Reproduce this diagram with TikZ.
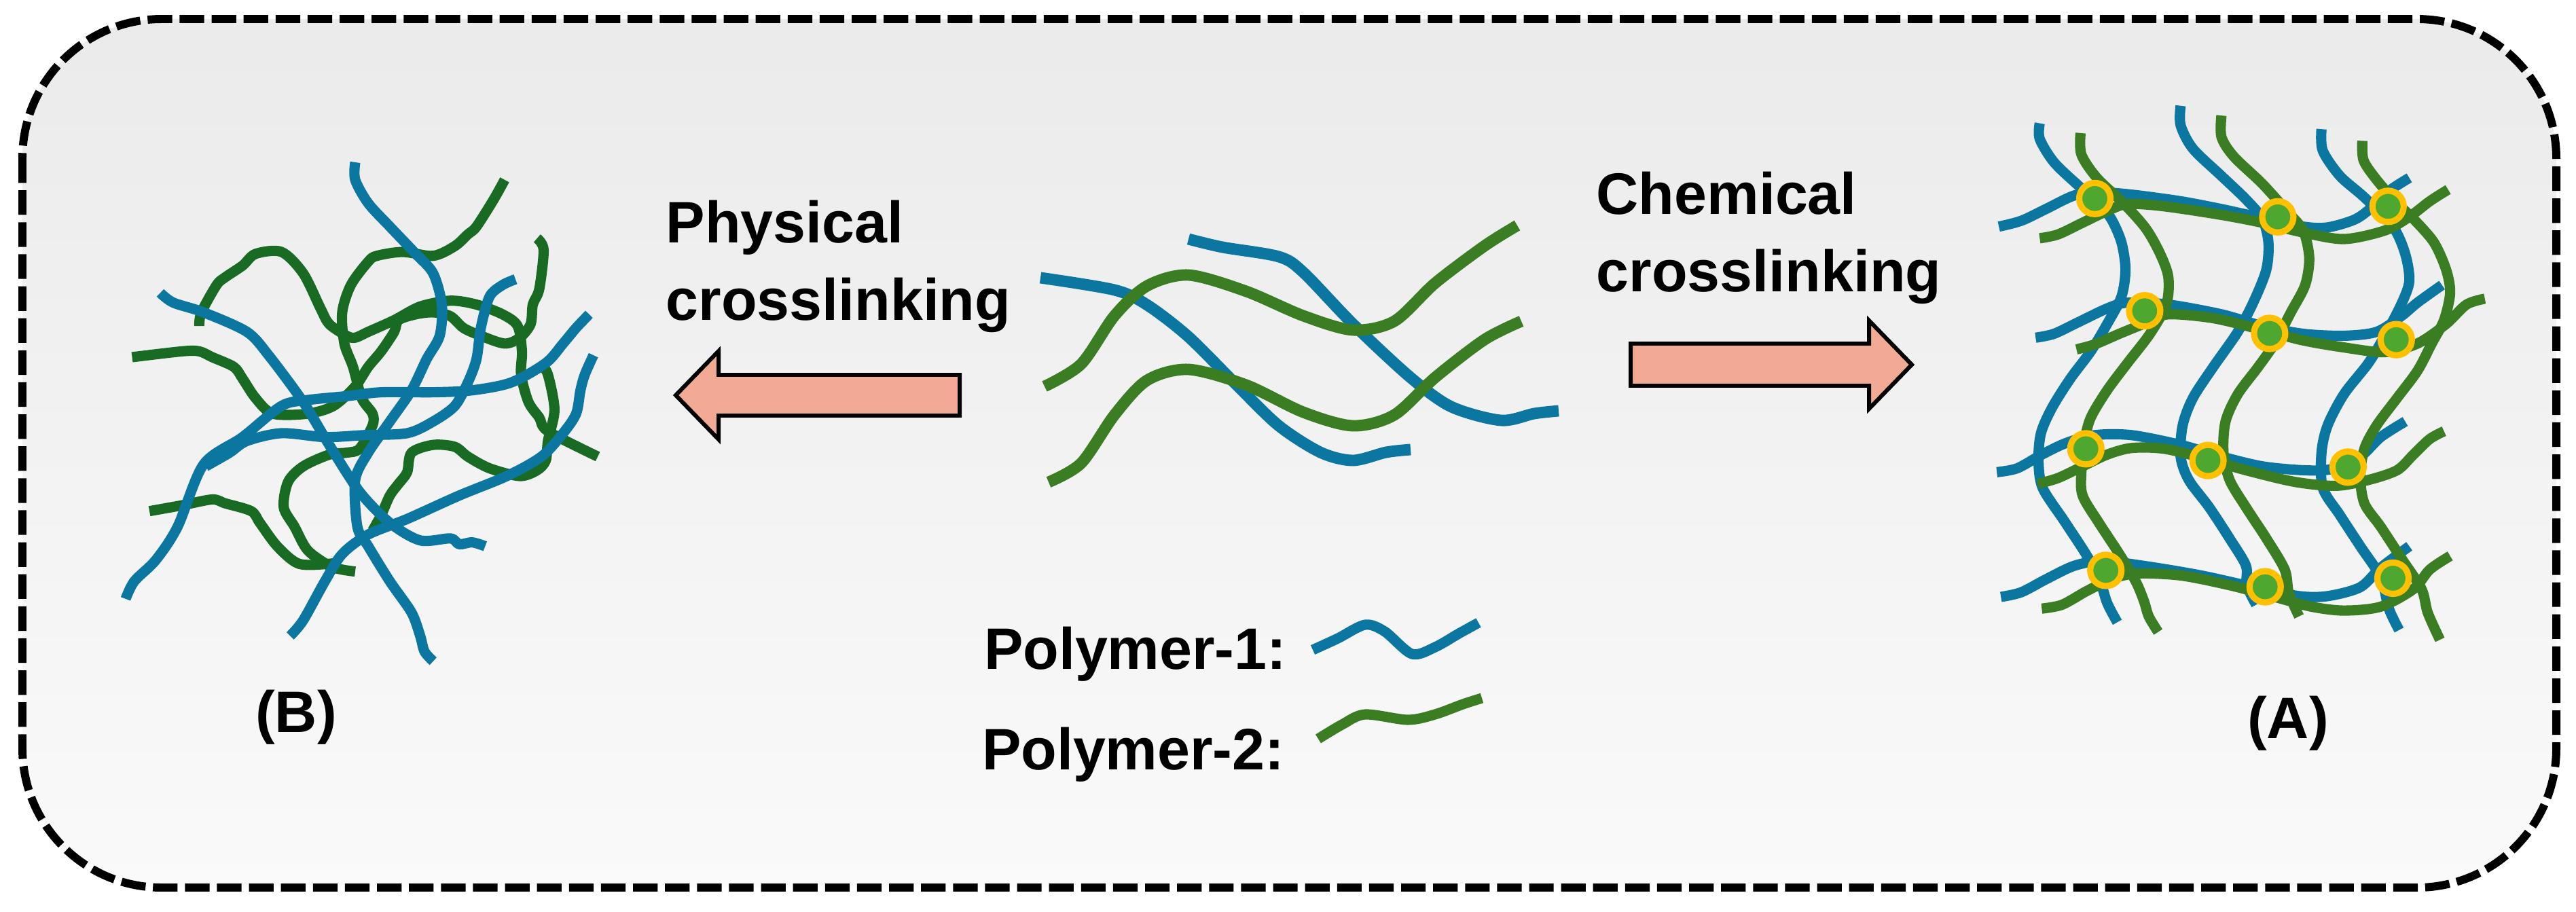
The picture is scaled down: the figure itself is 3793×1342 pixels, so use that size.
\documentclass[tikz,border=0pt]{standalone}
\usepackage{fontspec}
\setmainfont{Liberation Sans}
\usetikzlibrary{positioning}
\definecolor{chainblue}{HTML}{0B76A0}
\definecolor{chaingreen}{HTML}{3B7D23}
\definecolor{tanglegreen}{HTML}{196B24}
\definecolor{linkgreen}{HTML}{4EA72E}
\definecolor{linkgold}{HTML}{FFC000}
\definecolor{arrowfill}{RGB}{243,170,148}

\tikzset{
  chain/.style={line width=4.3pt, line join=round},
  thick chain/.style={chain, line width=4.8pt},
  link/.style={circle, draw=linkgold, fill=linkgreen, line width=2.6pt, minimum size=0.46cm, inner sep=0pt},
  lbl/.style={font=\fontsize{24.5}{32.4}\selectfont\bfseries, inner sep=0pt, align=left},
  bigarrow/.style={draw=black, line width=1.7pt, fill=arrowfill, line join=miter},
}

\begin{document}
\begin{tikzpicture}[x=0.01cm, y=-0.01cm]
  \useasboundingbox (0,0) rectangle (3793,1342);
  % frame
  \shade[top color=black!8, bottom color=black!2, rounded corners=2.05cm] (33,28) rectangle (3764,1307);
  \draw[line width=3.4pt, dash pattern=on 10.3pt off 3.1pt, rounded corners=2.05cm] (33,28) rectangle (3764,1307);

  % (B) physical network
  \begin{scope}[shift={(0,150)}, xscale=0.6378, yscale=0.574]
    \draw[chain, tanglegreen] plot[smooth, tension=0.5] coordinates {(460,575) (465,540) (500,470) (520,450) (560,420) (590,390) (650,385) (700,440) (740,530) (760,570) (800,600) (820,605) (850,590) (910,560) (970,525) (1040,510) (1100,520) (1160,545) (1195,575) (1205,640) (1203,700) (1220,770) (1245,810) (1265,845) (1380,910)};
    \draw[chain, tanglegreen] plot[smooth, tension=0.5] coordinates {(1165,200) (1140,250) (1100,320) (1080,340) (1050,370) (1000,395) (930,385) (870,395) (850,410) (810,470) (790,540) (795,620) (815,680) (835,760) (860,800) (860,830) (830,890) (800,900) (760,905) (700,935) (665,975) (655,1040) (680,1090) (710,1150) (760,1190) (790,1200) (820,1205)};
    \draw[chain, tanglegreen] plot[smooth, tension=0.5] coordinates {(305,655) (420,640) (460,640) (490,655) (540,680) (560,710) (590,760) (630,800) (710,800) (770,780) (820,730) (850,680) (880,640) (910,590) (920,560) (960,545) (1000,540) (1040,550) (1070,580) (1110,600) (1165,620) (1200,605) (1225,570) (1230,520) (1245,480) (1255,380) (1240,350)};
    \draw[chain, tanglegreen] plot[smooth, tension=0.5] coordinates {(345,1050) (420,1035) (490,1020) (520,1030) (580,1050) (600,1080) (640,1140) (690,1185) (760,1185) (780,1180)};
    \draw[chain, tanglegreen] plot[smooth, tension=0.5] coordinates {(1250,675) (1265,700) (1280,790) (1265,870) (1260,920) (1240,945) (1200,960) (1130,940) (1080,910) (1050,885) (1000,880) (950,900) (940,950) (920,980) (900,1010) (880,1060) (860,1100)};
    \draw[chain, chainblue] plot[smooth, tension=0.5] coordinates {(820,155) (820,200) (850,260) (900,320) (960,390) (1000,440) (1020,520) (1015,600) (985,660) (950,740) (900,820) (850,900) (820,970) (825,1090) (850,1140) (900,1230) (950,1310) (970,1370) (980,1410) (1000,1435)};
    \draw[chain, chainblue] plot[smooth, tension=0.5] coordinates {(370,490) (400,515) (470,540) (570,590) (620,650) (700,770) (760,880) (830,1000) (900,1080) (970,1125) (1040,1120) (1060,1135) (1090,1130) (1120,1140)};
    \draw[chain, chainblue] plot[smooth, tension=0.5] coordinates {(290,1275) (310,1230) (360,1175) (410,1090) (470,930) (560,860) (650,780) (710,765) (800,755) (880,745) (1000,745) (1090,740) (1180,720) (1260,670) (1300,620) (1330,580) (1360,545)};
    \draw[chain, chainblue] plot[smooth, tension=0.5] coordinates {(475,935) (530,900) (570,870) (650,850) (750,860) (840,855) (940,850) (1000,820) (1050,780) (1080,720) (1100,660) (1110,580) (1130,500) (1160,470) (1190,455)};
    \draw[chain, chainblue] plot[smooth, tension=0.5] coordinates {(670,1370) (700,1330) (750,1230) (790,1160) (850,1110) (940,1070) (1060,1010) (1170,960) (1250,910) (1300,850) (1330,800) (1340,740) (1350,700) (1370,650)};
  \end{scope}

  % single chains in the middle
  \draw[thick chain, chainblue] plot[smooth, tension=0.5] coordinates {(1750,352) (1800,364) (1883,378) (1919,401) (1992,477) (2077,556) (2137,599) (2210,619) (2259,609) (2295,605)};
  \draw[thick chain, chainblue] plot[smooth, tension=0.5] coordinates {(1532,409) (1641,427) (1689,449) (1750,496) (1822,568) (1883,627) (1944,666) (1992,678) (2041,666) (2077,662)};
  \draw[thick chain, chaingreen] plot[smooth, tension=0.5] coordinates {(1538,569) (1592,536) (1641,465) (1689,421) (1750,405) (1835,429) (1919,465) (1992,486) (2053,473) (2113,417) (2186,362) (2234,332)};
  \draw[thick chain, chaingreen] plot[smooth, tension=0.5] coordinates {(1544,710) (1592,682) (1641,611) (1689,560) (1750,544) (1835,567) (1919,607) (1992,627) (2053,611) (2113,556) (2186,500) (2240,473)};

  % arrows
  \draw[bigarrow] (1413,552) -- (1058,552) -- (1058,517) -- (995,582) -- (1058,647) -- (1058,612) -- (1413,612) -- cycle;
  \draw[bigarrow] (2401,506) -- (2752,506) -- (2752,472) -- (2815,537) -- (2752,602) -- (2752,568) -- (2401,568) -- cycle;

  \node[lbl, anchor=north west] (physical) at (980,294) {Physical\\crosslinking};
  \node[lbl, anchor=north west] (chemical) at (2350,252) {Chemical\\crosslinking};

  % (A) chemical network
  \begin{scope}[shift={(2850,150)}, xscale=0.6013, yscale=0.574]
    \draw[chain, chainblue] plot[smooth, tension=0.5] coordinates {(255,55) (255,95) (290,155) (350,215) (395,255) (430,300) (455,360) (465,430) (455,500) (420,570) (380,640) (330,710) (285,785) (258,850) (252,920) (262,990) (315,1075) (365,1155) (400,1220) (420,1285) (445,1335)};
    \draw[chain, chainblue] plot[smooth, tension=0.5] coordinates {(600,10) (600,60) (630,120) (700,190) (760,250) (800,300) (815,360) (810,430) (780,510) (740,590) (680,680) (630,760) (605,830) (600,910) (620,970) (670,1040) (720,1120) (760,1190) (762,1240) (785,1290)};
    \draw[chain, chainblue] plot[smooth, tension=0.5] coordinates {(945,70) (948,125) (990,190) (1050,245) (1120,320) (1150,390) (1160,460) (1140,520) (1100,600) (1060,670) (1000,750) (960,830) (945,900) (948,990) (990,1060) (1040,1140) (1090,1220) (1110,1300) (1135,1355)};
    \draw[chain, chainblue] plot[smooth, tension=0.5] coordinates {(155,320) (210,305) (270,275) (340,240) (400,232) (480,238) (600,255) (700,275) (800,298) (900,320) (960,322) (1030,300) (1080,260) (1115,225) (1160,195)};
    \draw[chain, chainblue] plot[smooth, tension=0.5] coordinates {(245,605) (290,595) (350,565) (420,530) (470,515) (570,520) (700,545) (800,575) (900,595) (1000,600) (1080,590) (1140,550) (1180,515) (1240,470)};
    \draw[chain, chainblue] plot[smooth, tension=0.5] coordinates {(150,950) (200,940) (260,905) (320,875) (390,855) (480,855) (600,880) (700,910) (800,935) (900,945) (970,942) (1040,910) (1090,860) (1150,820)};
    \draw[chain, chainblue] plot[smooth, tension=0.5] coordinates {(160,1270) (210,1258) (270,1225) (340,1190) (410,1178) (520,1192) (650,1215) (780,1245) (890,1268) (960,1268) (1040,1245) (1090,1195) (1160,1140)};
    \draw[chain, chaingreen] plot[smooth, tension=0.5] coordinates {(355,80) (357,135) (395,195) (460,260) (515,325) (550,390) (570,450) (565,520) (525,595) (470,670) (420,740) (380,810) (365,870) (357,950) (360,1010) (400,1080) (450,1160) (490,1230) (510,1280) (522,1320) (545,1360)};
    \draw[chain, chaingreen] plot[smooth, tension=0.5] coordinates {(700,35) (700,90) (730,140) (800,210) (860,280) (900,330) (915,400) (905,470) (870,540) (830,620) (790,680) (740,750) (710,820) (705,900) (720,970) (760,1040) (810,1120) (855,1200) (865,1260) (890,1320)};
    \draw[chain, chaingreen] plot[smooth, tension=0.5] coordinates {(1045,100) (1048,150) (1080,200) (1130,260) (1170,300) (1220,360) (1250,430) (1260,490) (1245,560) (1215,620) (1180,690) (1130,760) (1080,830) (1050,890) (1040,960) (1050,1030) (1090,1090) (1140,1170) (1190,1250) (1205,1310) (1235,1380)};
    \draw[chain, chaingreen] plot[smooth, tension=0.5] coordinates {(255,350) (300,340) (360,310) (420,280) (470,262) (560,268) (700,290) (800,310) (900,335) (1000,352) (1100,330) (1160,295) (1210,255) (1255,225)};
    \draw[chain, chaingreen] plot[smooth, tension=0.5] coordinates {(345,635) (390,622) (450,595) (520,565) (570,545) (680,555) (800,585) (900,612) (1000,630) (1100,642) (1180,620) (1250,570) (1300,520) (1345,505)};
    \draw[chain, chaingreen] plot[smooth, tension=0.5] coordinates {(250,980) (300,965) (360,935) (420,905) (480,888) (560,890) (660,915) (760,945) (880,975) (980,985) (1060,970) (1130,945) (1170,905) (1210,865) (1245,845)};
    \draw[chain, chaingreen] plot[smooth, tension=0.5] coordinates {(260,1300) (310,1290) (370,1255) (430,1225) (490,1210) (600,1215) (720,1240) (830,1270) (920,1295) (1000,1305) (1090,1295) (1170,1250) (1210,1200) (1260,1165)};
    % crosslink points
    \node[link] (c1) at (390,248) {};
    \node[link] (c2) at (838,295) {};
    \node[link] (c3) at (1108,268) {};
    \node[link] (c4) at (512,536) {};
    \node[link] (c5) at (818,594) {};
    \node[link] (c6) at (1128,610) {};
    \node[link] (c7) at (368,890) {};
    \node[link] (c8) at (667,920) {};
    \node[link] (c9) at (1010,937) {};
    \node[link] (c10) at (417,1202) {};
    \node[link] (c11) at (807,1244) {};
    \node[link] (c12) at (1120,1222) {};
  \end{scope}

  % legend
  \node[lbl, anchor=base east] (poly1) at (1895,985) {Polymer-1:};
  \node[lbl, anchor=base east] (poly2) at (1892,1133) {Polymer-2:};
  \draw[chain, chainblue] plot[smooth, tension=0.5] coordinates {(1933,957) (1970,940) (2010,920) (2039,930) (2079,963) (2113,953) (2148,933) (2177,917)};
  \draw[chain, chaingreen] plot[smooth, tension=0.5] coordinates {(1941,1088) (1976,1067) (2010,1052) (2073,1060) (2113,1052) (2154,1037) (2182,1028)};

  \node[lbl, anchor=base] (tangle) at (436,1078) {(B)};
  \node[lbl, anchor=base] (network) at (3369,1087) {(A)};
\end{tikzpicture}
\end{document}
